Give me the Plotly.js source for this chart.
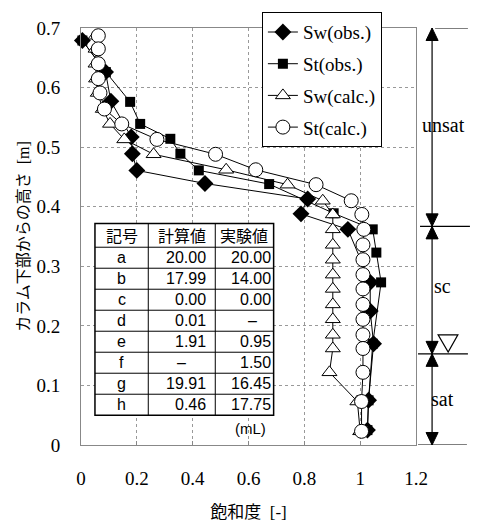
<!DOCTYPE html>
<html>
<head>
<meta charset="utf-8">
<script src="https://cdn.plot.ly/plotly-3.0.1.min.js"></script>
<style>html,body{margin:0;padding:0;background:#fff;}#chart{width:495px;height:525px;}</style>
</head>
<body>
<div id="chart"></div>
<script>
// ---- data ----
const swObsHeight = [0.679,0.626,0.577,0.517,0.489,0.461,0.439,0.413,0.388,0.362,0.273,0.225,0.170,0.075,0.025];
const swObsSat    = [0.005,0.088,0.107,0.180,0.184,0.200,0.444,0.812,0.788,0.956,1.036,1.036,1.048,1.030,1.026];
const stObsHeight = [0.679,0.626,0.576,0.539,0.514,0.489,0.461,0.438,0.389,0.362,0.323,0.273,0.170,0.075,0.025];
const stObsSat    = [0.005,0.089,0.176,0.212,0.320,0.356,0.422,0.674,0.905,1.045,1.058,1.075,1.045,1.030,1.026];
const calcHeight  = [0.687,0.665,0.640,0.615,0.591,0.564,0.539,0.513,0.488,0.462,0.437,0.410,0.387,0.362,0.336,0.311,0.286,0.262,0.236,0.211,0.185,0.162,0.122,0.073,0.023];
const swCalcSat   = [0.052,0.052,0.052,0.054,0.060,0.078,0.104,0.155,0.260,0.520,0.740,0.866,0.902,0.902,0.902,0.902,0.902,0.902,0.902,0.902,0.902,0.902,0.890,0.990,1.000];
const stCalcSat   = [0.062,0.062,0.062,0.062,0.068,0.084,0.146,0.272,0.482,0.626,0.842,0.968,1.006,1.013,1.010,1.010,1.010,1.010,1.010,1.010,1.010,1.010,1.010,1.005,1.005];
const seriesNames = ['Sw(obs.)','St(obs.)','Sw(calc.)','St(calc.)'];

const xTickVals = [0,0.2,0.4,0.6,0.8,1,1.2];
const xTickText = ['0','0.2','0.4','0.6','0.8','1','1.2'];
const yTickVals = [0,0.1,0.2,0.3,0.4,0.5,0.6,0.7];
const yTickText = ['0','0.1','0.2','0.3','0.4','0.5','0.6','0.7'];

const zoneBounds = [0, 0.153, 0.367, 0.7];
const zoneLabels = ['sat','sc','unsat'];
const waterTable = 0.153;

const tableHeader = ['記号','計算値','実験値'];
const tableSymbol = ['a','b','c','d','e','f','g','h'];
const tableCalc   = ['20.00','17.99','0.00','0.01','1.91','–','19.91','0.46'];
const tableExp    = ['20.00','14.00','0.00','–','0.95','1.50','16.45','17.75'];
const tableUnit   = '(mL)';

// ---- traces ----
const serif = '"Liberation Serif", "Times New Roman", serif';
const sans  = '"Liberation Sans", Arial, sans-serif';
const jp    = '"Noto Sans CJK JP", sans-serif';
const jpSerifMix = '"Liberation Serif", "Noto Sans CJK JP", serif';
const lineStyle = {color:'#000', width:1};
const traces = [
  {x:swObsSat, y:swObsHeight, name:seriesNames[0], legendgroup:'g1', mode:'lines+markers', line:lineStyle, cliponaxis:false,
   marker:{symbol:'diamond', size:13, color:'#000', line:{color:'#000', width:0}}},
  {x:stObsSat, y:stObsHeight, name:seriesNames[1], legendgroup:'g2', mode:'lines+markers', line:lineStyle, cliponaxis:false,
   marker:{symbol:'square', size:10, color:'#000', line:{color:'#000', width:0}}},
  {x:swCalcSat, y:calcHeight, name:seriesNames[2], legendgroup:'g3', mode:'lines+markers', line:lineStyle, cliponaxis:false,
   marker:{symbol:'triangle-up', size:13, color:'#fff', line:{color:'#000', width:1}}},
  {x:stCalcSat, y:calcHeight, name:seriesNames[3], legendgroup:'g4', mode:'lines+markers', line:lineStyle, cliponaxis:false,
   marker:{symbol:'circle', size:14, color:'#fff', line:{color:'#000', width:1}}}
];

// ---- table built from arrays (data coordinates) ----
const tX = [0.050, 0.241, 0.481, 0.690];
const tTop = 0.372, tHead = 0.332, tBot = 0.050;
const rowH = (tHead - tBot) / tableSymbol.length;
const shapes = [];
const annotations = [];
shapes.push({type:'rect', xref:'x', yref:'y', x0:tX[0], x1:tX[3], y0:tBot, y1:tTop,
  fillcolor:'#fff', line:{color:'#000', width:1.5}, layer:'above'});
for (let i = 1; i < 3; i++) {
  shapes.push({type:'line', xref:'x', yref:'y', x0:tX[i], x1:tX[i], y0:tBot, y1:tTop, line:{color:'#000', width:1}, layer:'above'});
}
for (let r = 0; r < tableSymbol.length; r++) {
  const yl = tHead - r * rowH;
  shapes.push({type:'line', xref:'x', yref:'y', x0:tX[0], x1:tX[3], y0:yl, y1:yl, line:{color:'#000', width:1}, layer:'above'});
}
for (let c = 0; c < 3; c++) {
  annotations.push({xref:'x', yref:'y', x:(tX[c]+tX[c+1])/2, y:(tTop+tHead)/2, text:tableHeader[c],
    showarrow:false, font:{family:jp, size:16, color:'#000'}});
}
for (let r = 0; r < tableSymbol.length; r++) {
  const yc = tHead - (r + 0.5) * rowH;
  annotations.push({xref:'x', yref:'y', x:(tX[0]+tX[1])/2, y:yc, text:tableSymbol[r], showarrow:false,
    font:{family:sans, size:16, color:'#000'}});
  const cv = tableCalc[r], ev = tableExp[r];
  annotations.push(cv === '–'
    ? {xref:'x', yref:'y', x:(tX[1]+tX[2])/2, y:yc, text:cv, showarrow:false, font:{family:sans, size:16, color:'#000'}}
    : {xref:'x', yref:'y', x:tX[2]-0.025, y:yc, xanchor:'right', text:cv, showarrow:false, font:{family:sans, size:16, color:'#000'}});
  annotations.push(ev === '–'
    ? {xref:'x', yref:'y', x:(tX[2]+tX[3])/2+0.03, y:yc, text:ev, showarrow:false, font:{family:sans, size:16, color:'#000'}}
    : {xref:'x', yref:'y', x:tX[3]-0.004, y:yc, xanchor:'right', text:ev, showarrow:false, font:{family:sans, size:16, color:'#000'}});
}
annotations.push({xref:'x', yref:'y', x:0.607, y:0.028, text:tableUnit, showarrow:false,
  font:{family:sans, size:15, color:'#000'}});

// ---- zone arrows on the right (paper x, data y) ----
const axX = 1.048, headW = 0.018, headH = 0.021;
shapes.push({type:'line', xref:'paper', yref:'y', x0:axX, x1:axX, y0:zoneBounds[0], y1:zoneBounds[3], line:{color:'#000', width:1.2}});
const tickSpans = [[1.006,1.152],[1.006,1.155],[1.012,1.161],[1.057,1.155]];
zoneBounds.forEach((b, i) => {
  shapes.push({type:'line', xref:'paper', yref:'y', x0:tickSpans[i][0], x1:tickSpans[i][1], y0:b, y1:b, line:{color:'#000', width:1.2}});
});
for (let z = 0; z < zoneLabels.length; z++) {
  const lo = zoneBounds[z], hi = zoneBounds[z+1];
  shapes.push({type:'path', xref:'paper', yref:'y', fillcolor:'#000', line:{color:'#000', width:1},
    path:`M ${axX-headW} ${hi-headH} L ${axX} ${hi} L ${axX+headW} ${hi-headH} Z`});
  shapes.push({type:'path', xref:'paper', yref:'y', fillcolor:'#000', line:{color:'#000', width:1},
    path:`M ${axX-headW} ${lo+headH} L ${axX} ${lo} L ${axX+headW} ${lo+headH} Z`});
}
const labelPos = [[1.119, 0.078],[1.110, 0.267],[1.152, 0.538]];
zoneLabels.forEach((t, i) => {
  annotations.push({xref:'paper', yref:'y', x:labelPos[i][0], y:labelPos[i][1], text:t, showarrow:false,
    font:{family:serif, size:20, color:'#000'}});
});
// water table symbol
shapes.push({type:'path', xref:'paper', yref:'y', fillcolor:'#fff', line:{color:'#000', width:1.2},
  path:`M 1.066 ${waterTable+0.032} L 1.125 ${waterTable+0.032} L 1.096 ${waterTable+0.003} Z`});

const layout = {
  width:495, height:525,
  margin:{l:81, r:79, t:24, b:80},
  paper_bgcolor:'#fff', plot_bgcolor:'#fff',
  showlegend:true,
  legend:{x:0.540, y:1.038, xanchor:'left', yanchor:'top', bgcolor:'#fff', bordercolor:'#000', borderwidth:1,
    font:{family:serif, size:19, color:'#000'}, traceorder:'grouped', tracegroupgap:4, itemwidth:30},
  xaxis:{range:[0,1.2], tickvals:xTickVals, ticktext:xTickText, showgrid:true, gridcolor:'#999', griddash:'dot', gridwidth:1,
    zeroline:false, showline:true, linecolor:'#888', linewidth:1, mirror:true, ticks:'inside', ticklen:4, tickcolor:'#888',
    ticklabelstandoff:16, tickfont:{family:serif, size:19, color:'#000'},
    title:{text:'飽和度  [-]', font:{family:jpSerifMix, size:17, color:'#000'}, standoff:18}},
  yaxis:{range:[0,0.7], tickvals:yTickVals, ticktext:yTickText, showgrid:true, gridcolor:'#999', griddash:'dot', gridwidth:1,
    zeroline:false, showline:true, linecolor:'#888', linewidth:1, mirror:true, ticks:'',
    ticklabelstandoff:16, tickfont:{family:serif, size:19, color:'#000'},
    title:{text:'カラム下部からの高さ  [m]', font:{family:jpSerifMix, size:16, color:'#000'}, standoff:2}},
  shapes:shapes,
  annotations:annotations
};
Plotly.newPlot('chart', traces, layout, {displayModeBar:false, staticPlot:true});
</script>
</body>
</html>
